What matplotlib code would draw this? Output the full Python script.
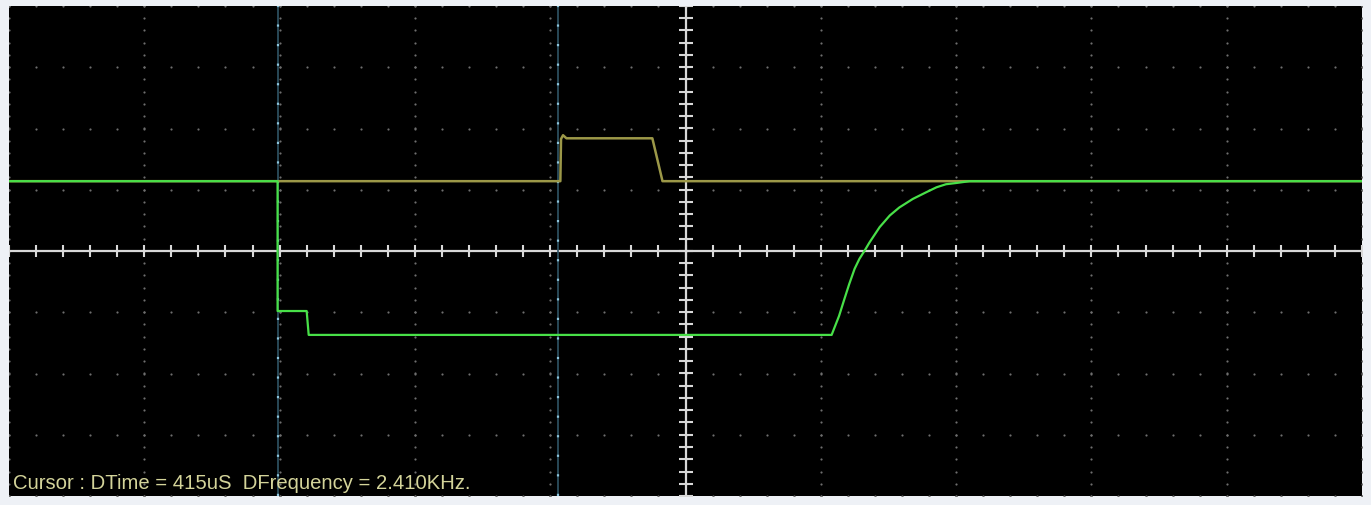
import numpy as np
import matplotlib
matplotlib.use("Agg")
import matplotlib.pyplot as plt

# time in us (200 us/div, 10 div), level in divisions (8 div)
ch1_t = [-1000, -185, -184, -181, -176, -49, -34, 1000]
ch1_v = [1.14, 1.14, 1.83, 1.89, 1.84, 1.84, 1.14, 1.14]

ch2_t = [-1000, -603, -603, -560, -557, 216, 227, 235, 242, 250, 257,
         265, 272, 287, 302, 316, 336, 356, 371, 385, 400, 420, 1000]
ch2_v = [1.14, 1.14, -0.98, -0.98, -1.37, -1.37, -1.06, -0.78, -0.54,
         -0.29, -0.13, 0.01, 0.14, 0.39, 0.58, 0.71, 0.85, 0.96, 1.04,
         1.09, 1.11, 1.14, 1.14]

cursor_t = [-603, -189]
readout = "Cursor : DTime = 415uS  DFrequency = 2.410KHz."

W, H = 1371, 506
fig = plt.figure(figsize=(W / 100, H / 100), dpi=100, facecolor="#eef1f6")
ax = fig.add_axes([9 / W, 9 / H, 1353 / W, 490 / H])
ax.set_facecolor("black")
ax.set_xlim(-1000, 1000)
ax.set_ylim(-4, 4)
ax.set_xticks([])
ax.set_yticks([])
for s in ax.spines.values():
    s.set_visible(False)

# dotted graticule
dot = dict(s=2.5, color="#6e6e6e", lw=0, zorder=1)
xmaj = np.arange(-1000, 1001, 200)
ymaj = np.arange(-4, 5, 1)
xmin = np.arange(-1000, 1001, 40)
ymin = np.arange(-4, 4.01, 0.2)
gx, gy = np.meshgrid(xmaj, ymin)
ax.scatter(gx.ravel(), gy.ravel(), **dot)
gx, gy = np.meshgrid(xmin, ymaj)
ax.scatter(gx.ravel(), gy.ravel(), **dot)

# centre axes with ticks
ax.axhline(0, color="#d8d8d8", lw=1.6, zorder=2)
ax.axvline(0, color="#d8d8d8", lw=1.6, zorder=2)
ax.plot(xmin, np.zeros_like(xmin), ls="none", marker="|", ms=8,
        mew=1.5, color="#d8d8d8", zorder=2)
ax.plot(np.zeros_like(ymin), ymin, ls="none", marker="_", ms=10,
        mew=1.5, color="#d8d8d8", zorder=2)

# cursors
for c in cursor_t:
    ax.axvline(c, color="#2f5566", lw=1.2, zorder=3)
    ax.axvline(c, color="#8cc4dc", lw=1.6, ls=(0, (1, 7.8)), zorder=3)

ax.plot(ch1_t, ch1_v, color="#9c9848", lw=1.8, zorder=4)
ax.plot(ch2_t, ch2_v, color="#48e048", lw=1.6, zorder=5)

ax.text(-994, -3.87, readout, color="#d4d49a", fontsize=14.6,
        family="Liberation Sans", va="baseline", ha="left", zorder=6)

fig.savefig("out.png", dpi=100, facecolor=fig.get_facecolor())
